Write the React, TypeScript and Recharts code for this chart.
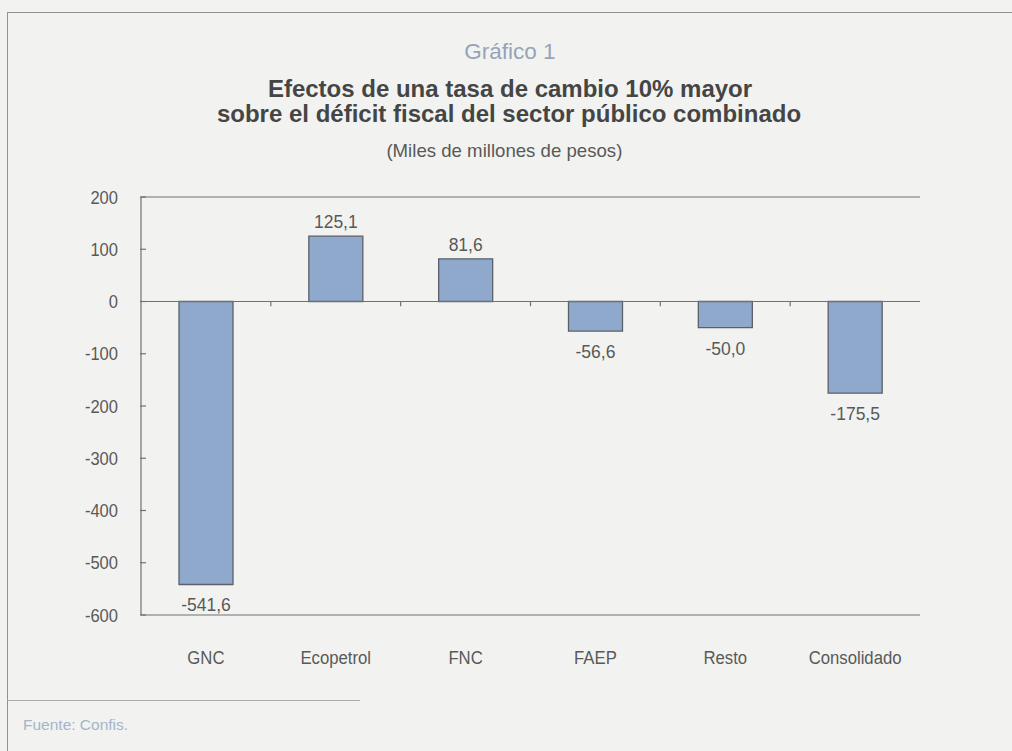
import React from "react";
import { BarChart, Bar, XAxis, YAxis, ReferenceLine, LabelList } from "recharts";

const categories = ["GNC", "Ecopetrol", "FNC", "FAEP", "Resto", "Consolidado"];
const values = [-541.6, 125.1, 81.6, -56.6, -50.0, -175.5];
const yTicks = [-600, -500, -400, -300, -200, -100, 0, 100, 200];

const data = categories.map((c, i) => ({ name: c, value: values[i] }));

const BG = "#f2f3f0";
const AXIS = "#6f7275";
const TEXT = "#595959";
const SANS = '"Liberation Sans", Arial, sans-serif';

const YTick = (props: any) => {
  const { x, y, payload } = props;
  return (
    <g>
      <text
        transform={`translate(${x},${y + 6.5}) scale(0.92,1)`}
        x={0}
        y={0}
        textAnchor="end"
        fill={TEXT}
        fontSize={18}
        fontFamily={SANS}
      >
        {payload.value}
      </text>
      <line x1={x + 22} x2={x + 28} y1={y} y2={y} stroke={AXIS} strokeWidth={1.2} />
    </g>
  );
};

const XTick = (props: any) => {
  const { x, y, payload } = props;
  return (
    <text
      transform={`translate(${x},${y + 13}) scale(0.88,1)`}
      x={0}
      y={0}
      textAnchor="middle"
      fill={TEXT}
      fontSize={19}
      fontFamily={SANS}
    >
      {payload.value}
    </text>
  );
};

const ValueLabel = (props: any) => {
  const { x, y, width, height, value } = props;
  const top = Math.min(y, y + height);
  const bottom = Math.max(y, y + height);
  const cx = x + width / 2;
  const txt = Number(value).toFixed(1).replace(".", ",");
  if (value >= 0) {
    return (
      <text x={cx} y={top - 8} textAnchor="middle" fill={TEXT} fontSize={17.5} fontFamily={SANS}>
        {txt}
      </text>
    );
  }
  return (
    <text x={cx} y={bottom + 27} textAnchor="middle" fill={TEXT} fontSize={17.5} fontFamily={SANS}>
      {txt}
    </text>
  );
};

export default function App() {
  return (
    <div
      style={{
        position: "absolute",
        left: 0,
        top: 0,
        width: 1012,
        height: 751,
        background: BG,
        overflow: "hidden",
      }}
    >
      <div
        style={{
          position: "absolute",
          left: 7,
          top: 12,
          width: 1012,
          height: 760,
          borderTop: "1.5px solid #8f9294",
          borderLeft: "1.5px solid #8f9294",
        }}
      />
      <div
        style={{
          position: "absolute",
          left: 0,
          width: 1012,
          top: 39,
          textAlign: "center",
          fontFamily: SANS,
          fontSize: 22.5,
          lineHeight: "26px",
          color: "#97a3b8",
        }}
      >
        <span style={{ position: "relative", left: 4 }}>Gráfico 1</span>
      </div>
      <div
        style={{
          position: "absolute",
          left: 0,
          width: 1012,
          top: 76,
          textAlign: "center",
          fontFamily: SANS,
          fontWeight: "bold",
          fontSize: 24,
          lineHeight: "25px",
          color: "#454545",
        }}
      >
        <div style={{ position: "relative", left: 4 }}>Efectos de una tasa de cambio 10% mayor</div>
        <div style={{ position: "relative", left: 3 }}>sobre el déficit fiscal del sector público combinado</div>
      </div>
      <div
        style={{
          position: "absolute",
          left: 0,
          width: 1012,
          top: 140,
          textAlign: "center",
          fontFamily: SANS,
          fontSize: 19,
          lineHeight: "22px",
          color: TEXT,
        }}
      >
        <span style={{ display: "inline-block", position: "relative", left: -2, transform: "scaleX(0.98)" }}>
          (Miles de millones de pesos)
        </span>
      </div>

      <div style={{ position: "absolute", left: 0, top: 0 }}>
        <BarChart
          width={1012}
          height={751}
          data={data}
          margin={{ top: 197, right: 92, bottom: 76, left: 0 }}
          barSize={54}
        >
          <XAxis
            dataKey="name"
            height={60}
            axisLine={{ stroke: AXIS, strokeWidth: 1.2 }}
            tickLine={false}
            tickSize={0}
            tickMargin={36}
            tick={<XTick />}
            interval={0}
          />
          <YAxis
            width={141}
            domain={[-600, 200]}
            ticks={yTicks}
            allowDataOverflow
            axisLine={{ stroke: AXIS, strokeWidth: 1.2 }}
            tickLine={false}
            tickSize={0}
            tickMargin={23}
            tick={<YTick />}
            interval={0}
          />
          <ReferenceLine y={200} stroke={AXIS} strokeWidth={1.2} />
          <ReferenceLine x="Consolidado" position="end" stroke={AXIS} strokeWidth={1.2} />
          <ReferenceLine y={0} stroke={AXIS} strokeWidth={1.2} />
          {categories.slice(0, 5).map((c) => (
            <ReferenceLine
              key={c}
              position="end"
              segment={[
                { x: c, y: 0 },
                { x: c, y: -9 },
              ]}
              stroke={AXIS}
              strokeWidth={1.2}
            />
          ))}
          <Bar dataKey="value" fill="#8fa9cc" stroke="#5b6068" strokeWidth={1.3} isAnimationActive={false}>
            <LabelList dataKey="value" content={<ValueLabel />} />
          </Bar>
        </BarChart>
      </div>

      <div
        style={{
          position: "absolute",
          left: 7,
          top: 700,
          width: 353,
          height: 0,
          borderTop: "1.5px solid #a9acae",
        }}
      />
      <div
        style={{
          position: "absolute",
          left: 23,
          top: 716,
          fontFamily: SANS,
          fontSize: 15.5,
          lineHeight: "18px",
          color: "#a3b4cb",
        }}
      >
        Fuente: Confis.
      </div>
    </div>
  );
}
